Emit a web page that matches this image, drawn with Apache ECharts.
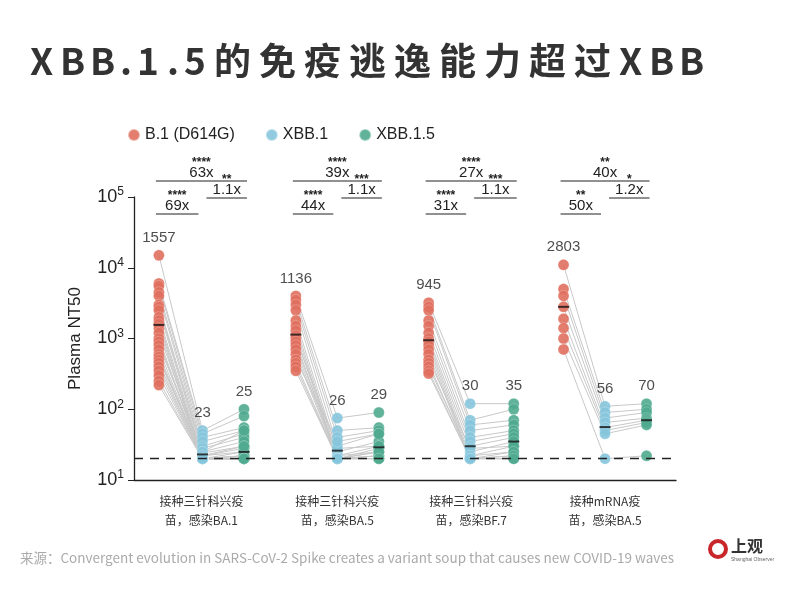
<!DOCTYPE html>
<html lang="zh">
<head>
  <meta charset="UTF-8">
  <title>XBB.1.5</title>
  <script src="https://cdn.jsdelivr.net/npm/echarts@6/dist/echarts.min.js"></script>
  <style>
    body { margin: 0; background: #fff; }
    #box { width: 800px; height: 594px; }
  </style>
</head>
<body>
<div id="box"></div>
<script>
  var titleText = 'XBB.1.5的免疫逃逸能力超过XBB';
  var groupNames = ['接种三针科兴疫\n苗，感染BA.1', '接种三针科兴疫\n苗，感染BA.5', '接种三针科兴疫\n苗，感染BF.7', '接种mRNA疫\n苗，感染BA.5'];
  var colX = [[0.6, 1.65, 2.65], [3.9, 4.9, 5.9], [7.1, 8.1, 9.15], [10.35, 11.35, 12.35]];
  var gmt = [[1557, 23, 25], [1136, 26, 29], [945, 30, 35], [2803, 56, 70]];
  var folds = [['63x', '69x', '1.1x'], ['39x', '44x', '1.1x'], ['27x', '31x', '1.1x'], ['40x', '50x', '1.2x']];
  var stars = [['****', '****', '**'], ['****', '****', '***'], ['****', '****', '***'], ['**', '**', '*']];

  var b1 = [15000, 6000, 5500, 4500, 4000, 3000, 2800, 2500, 2000, 1800, 1600, 1400, 1200, 1000, 900, 800, 700, 600, 550, 500, 450, 400, 350, 300, 250, 220];
  var x1 = [50, 45, 40, 35, 30, 28, 25, 24, 22, 20, 20, 20, 22, 20, 20, 25, 20, 20, 20, 22, 20, 20, 20, 20, 20, 20];
  var x15 = [100, 80, 55, 50, 45, 40, 35, 30, 25, 22, 20, 20, 28, 20, 22, 50, 20, 25, 20, 30, 20, 20, 22, 20, 20, 20];

  var b2 = [4000, 3500, 3000, 2500, 1800, 1500, 1300, 1100, 1000, 900, 800, 700, 600, 500, 450, 400, 350];
  var x2 = [75, 50, 40, 30, 25, 22, 20, 20, 28, 20, 22, 20, 20, 35, 20, 20, 20];
  var x25 = [90, 55, 50, 45, 35, 30, 28, 25, 30, 22, 25, 20, 22, 45, 20, 25, 20];

  var b3 = [3200, 2800, 2500, 1800, 1500, 1200, 1000, 900, 800, 700, 600, 500, 450, 400, 350, 320];
  var x3 = [120, 70, 60, 50, 40, 35, 30, 25, 22, 20, 20, 28, 20, 22, 20, 20];
  var x35 = [120, 100, 70, 60, 50, 45, 40, 35, 30, 25, 22, 30, 20, 25, 22, 20];

  var b4 = [11000, 5000, 4000, 2800, 1900, 1400, 1000, 700];
  var x4 = [110, 90, 75, 65, 55, 50, 45, 20];
  var x45 = [120, 100, 90, 75, 70, 65, 60, 22];

  var groups = [[b1, x1, x15], [b2, x2, x25], [b3, x3, x35], [b4, x4, x45]];
  var colors = ['#e06f5e', '#86c5dc', '#4faa8e'];
  var names = ['B.1 (D614G)', 'XBB.1', 'XBB.1.5'];

  var lineData = [];
  var pts = [[], [], []];
  var gmtPts = [];
  var labelPts = [];
  groups.forEach(function (g, gi) {
    for (var i = 0; i < g[0].length; i++) {
      for (var v = 0; v < 3; v++) {
        lineData.push([colX[gi][v], g[v][i]]);
        pts[v].push([colX[gi][v], g[v][i]]);
      }
      lineData.push(null);
    }
    for (var v = 0; v < 3; v++) {
      gmtPts.push([colX[gi][v], gmt[gi][v]]);
      labelPts.push({ value: [colX[gi][v], Math.max.apply(null, g[v])], label: { formatter: String(gmt[gi][v]) } });
    }
  });

  var series = [{
    type: 'line', data: lineData, connectNulls: false, symbol: 'none', silent: true,
    lineStyle: { color: '#c8c8c8', width: 1 }, z: 1,
    markLine: {
      silent: true, symbol: 'none', label: { show: false },
      lineStyle: { color: '#222', type: [9, 7], width: 1.3 },
      data: [{ yAxis: 20 }]
    }
  }];
  for (var v = 0; v < 3; v++) {
    series.push({
      name: names[v], type: 'scatter', data: pts[v], symbolSize: 11, z: 2,
      itemStyle: { color: colors[v], opacity: 0.9, borderColor: 'rgba(255,255,255,0.5)', borderWidth: 0.5 }
    });
  }
  series.push({
    type: 'scatter', data: gmtPts, symbol: 'rect', symbolSize: [11, 2], z: 4,
    itemStyle: { color: '#111' }, silent: true
  });
  series.push({
    type: 'scatter', data: labelPts, symbolSize: 0, z: 5, silent: true,
    label: { show: true, position: 'top', distance: 10, fontSize: 15, color: '#222', fontFamily: 'Liberation Sans' }
  });

  var chart = echarts.init(document.getElementById('box'));
  chart.setOption({
    animation: false,
    legend: {
      data: names, top: 122, left: 122, icon: 'circle', itemWidth: 12, itemHeight: 12, itemGap: 30,
      textStyle: { fontSize: 16, color: '#222', fontFamily: 'Liberation Sans' }
    },
    grid: { left: 134, right: 124, top: 197, bottom: 114 },
    xAxis: {
      type: 'value', min: 0, max: 13.06, axisLine: { lineStyle: { color: '#222', width: 1.3 } },
      axisTick: { show: false }, axisLabel: { show: false }, splitLine: { show: false }
    },
    yAxis: {
      type: 'log', min: 10, max: 100000, logBase: 10,
      name: 'Plasma NT50', nameLocation: 'middle', nameGap: 50,
      nameTextStyle: { fontSize: 17, color: '#222', fontFamily: 'Liberation Sans' },
      axisLine: { show: true, lineStyle: { color: '#222', width: 1.3 } },
      axisTick: { show: true, length: 6, lineStyle: { color: '#222' } },
      splitLine: { show: false },
      axisLabel: {
        color: '#222', margin: 10,
        formatter: function (val) {
          return '{b|10}{s|' + Math.round(Math.log10(val)) + '}';
        },
        rich: {
          b: { fontSize: 18, fontFamily: 'Liberation Sans', color: '#222' },
          s: { fontSize: 12, fontFamily: 'Liberation Sans', color: '#222', verticalAlign: 'top', padding: [0, 0, 10, 0] }
        }
      }
    },
    series: series
  });

  var graphics = [];
  // title with letter spacing, one glyph at a time
  var tx = 30;
  titleText.split('').forEach(function (ch) {
    graphics.push({ type: 'text', x: tx, y: 42, style: { text: ch, fontSize: 37, fontWeight: 'bold', fill: '#333', fontFamily: 'Noto Sans CJK SC' } });
    tx += /[\u4e00-\u9fff]/.test(ch) ? 45 : (ch === '.' ? 17 : 30);
  });

  function px(x) { return chart.convertToPixel({ xAxisIndex: 0 }, x); }
  colX.forEach(function (c, gi) {
    var a = px(c[0]) - 3, b = px(c[1]), cc = px(c[2]) + 3;
    var segs = [[a, cc, 181, 0], [a, b - 4, 214, 1], [b + 4, cc, 198, 2]];
    segs.forEach(function (s) {
      graphics.push({ type: 'line', shape: { x1: s[0], y1: s[2], x2: s[1], y2: s[2] }, style: { stroke: '#222', lineWidth: 1.2 } });
      graphics.push({ type: 'text', x: (s[0] + s[1]) / 2, y: s[2] - 1, style: { text: folds[gi][s[3]], fontSize: 15, fill: '#222', fontFamily: 'Liberation Sans', align: 'center', verticalAlign: 'bottom' } });
      graphics.push({ type: 'text', x: (s[0] + s[1]) / 2, y: s[2] - 12, style: { text: stars[gi][s[3]], fontSize: 12, fill: '#222', fontFamily: 'Liberation Sans', fontWeight: 'bold', align: 'center', verticalAlign: 'bottom' } });
    });
    graphics.push({ type: 'text', x: (px(c[0]) + px(c[2])) / 2, y: 492, style: { text: groupNames[gi], fontSize: 12, lineHeight: 19, fill: '#333', fontFamily: 'Noto Sans CJK SC', align: 'center' } });
  });
  graphics.push({ type: 'text', left: 20, top: 551, style: { text: '来源：Convergent evolution in SARS-CoV-2 Spike creates a variant soup that causes new COVID-19 waves', fontSize: 13.5, fill: '#aaa', fontFamily: 'Noto Sans CJK SC' } });
  graphics.push({ type: 'circle', shape: { cx: 718, cy: 549, r: 8 }, style: { fill: 'none', stroke: '#c8262a', lineWidth: 4 } });
  graphics.push({ type: 'text', left: 731, top: 538, style: { text: '上观', fontSize: 16, fill: '#333', fontWeight: 'bold', fontFamily: 'Noto Sans CJK SC' } });
  graphics.push({ type: 'text', left: 731, top: 557, style: { text: 'Shanghai Observer', fontSize: 5, fill: '#666', fontFamily: 'Liberation Sans' } });
  chart.setOption({ graphic: graphics });
</script>
</body>
</html>
